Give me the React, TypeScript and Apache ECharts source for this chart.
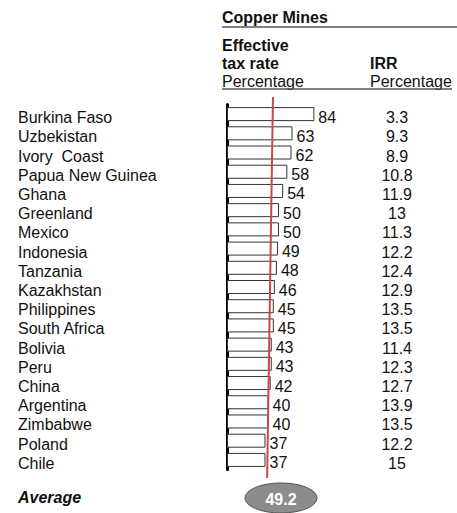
import React, { useEffect, useRef } from "react";
import * as echarts from "echarts";

const countries = [
  "Burkina Faso", "Uzbekistan", "Ivory  Coast", "Papua New Guinea", "Ghana",
  "Greenland", "Mexico", "Indonesia", "Tanzania", "Kazakhstan", "Philippines",
  "South Africa", "Bolivia", "Peru", "China", "Argentina", "Zimbabwe", "Poland", "Chile",
];
const taxRates = [84, 63, 62, 58, 54, 50, 50, 49, 48, 46, 45, 45, 43, 43, 42, 40, 40, 37, 37];
const irr = ["3.3", "9.3", "8.9", "10.8", "11.9", "13", "11.3", "12.2", "12.4", "12.9", "13.5", "13.5", "11.4", "12.3", "12.7", "13.9", "13.5", "12.2", "15"];
const average = 49.2;
// reference line as drawn (slightly slanted): value at top, value at bottom
const refLine = [44.2, 38.6];

const FONT = "'Liberation Sans', Arial, sans-serif";
const TXT = "#111";

export default function App() {
  const ref = useRef<HTMLDivElement>(null);
  useEffect(() => {
    if (!ref.current) return;
    const chart = echarts.init(ref.current, undefined, { renderer: "svg" });
    const gridLeft = 227;
    const gridWidth = 104;
    const option: any = {
      animation: false,
      textStyle: { fontFamily: FONT },
      grid: { left: gridLeft, top: 104.5, width: gridWidth, height: 365, containLabel: false },
      xAxis: {
        type: "value", min: 0, max: 100, show: false,
      },
      yAxis: [
        {
          type: "category", data: countries, inverse: true,
          axisLine: { show: true, lineStyle: { color: "#000", width: 3 } },
          axisTick: { show: false },
          axisLabel: {
            interval: 0, align: "left", margin: 209, fontSize: 16, color: TXT, fontFamily: FONT,
            verticalAlign: "top", lineHeight: 7,
          },
        },
        {
          type: "category", data: irr, inverse: true, position: "right",
          axisLine: { show: false }, axisTick: { show: false },
          axisLabel: {
            interval: 0, align: "center", margin: 66, fontSize: 16, color: TXT, fontFamily: FONT,
            verticalAlign: "top", lineHeight: 7,
          },
        },
      ],
      series: [
        {
          type: "bar", data: taxRates, yAxisIndex: 0, barWidth: 14,
          itemStyle: { color: "#fff", borderColor: "#333", borderWidth: 1 },
          label: {
            show: true, position: "right", distance: 4, fontSize: 16, color: TXT,
            fontFamily: FONT, offset: [0, 3],
          },
        },
      ],
    };
    chart.setOption(option);
    const xTop = chart.convertToPixel({ xAxisIndex: 0 }, refLine[0]) as number;
    const xBot = chart.convertToPixel({ xAxisIndex: 0 }, refLine[1]) as number;
    chart.setOption({
      graphic: [
        { type: "text", left: 222, top: 9, style: { text: "Copper Mines", font: `bold 16px ${FONT}`, fill: TXT } },
        { type: "line", shape: { x1: 222, y1: 27, x2: 457, y2: 27 }, style: { stroke: "#555", lineWidth: 1.5 } },
        { type: "text", left: 222, top: 37, style: { text: "Effective", font: `bold 16px ${FONT}`, fill: TXT } },
        { type: "text", left: 222, top: 55, style: { text: "tax rate", font: `bold 16px ${FONT}`, fill: TXT } },
        { type: "text", left: 222, top: 73, style: { text: "Percentage", font: `16px ${FONT}`, fill: TXT } },
        { type: "text", left: 370, top: 55, style: { text: "IRR", font: `bold 16px ${FONT}`, fill: TXT } },
        { type: "text", left: 370, top: 73, style: { text: "Percentage", font: `16px ${FONT}`, fill: TXT } },
        { type: "line", shape: { x1: 222, y1: 89, x2: 452, y2: 89 }, style: { stroke: "#555", lineWidth: 1.5 } },
        { type: "line", z: 10, shape: { x1: xTop, y1: 97, x2: xBot, y2: 478 }, style: { stroke: "#c8484b", lineWidth: 2 } },
        { type: "text", left: 18, top: 489, style: { text: "Average", font: `italic bold 16px ${FONT}`, fill: TXT } },
        { type: "ellipse", shape: { cx: 281, cy: 498, rx: 36, ry: 15 }, style: { fill: "#8c8c8c", stroke: "#555", lineWidth: 1 } },
        { type: "text", x: 281, y: 499, style: { text: String(average), font: `bold 16px ${FONT}`, fill: "#fff", align: "center", verticalAlign: "middle" } },
      ],
    });
    return () => chart.dispose();
  }, []);
  return <div ref={ref} style={{ position: "absolute", left: 0, top: 0, width: 457, height: 513 }} />;
}
